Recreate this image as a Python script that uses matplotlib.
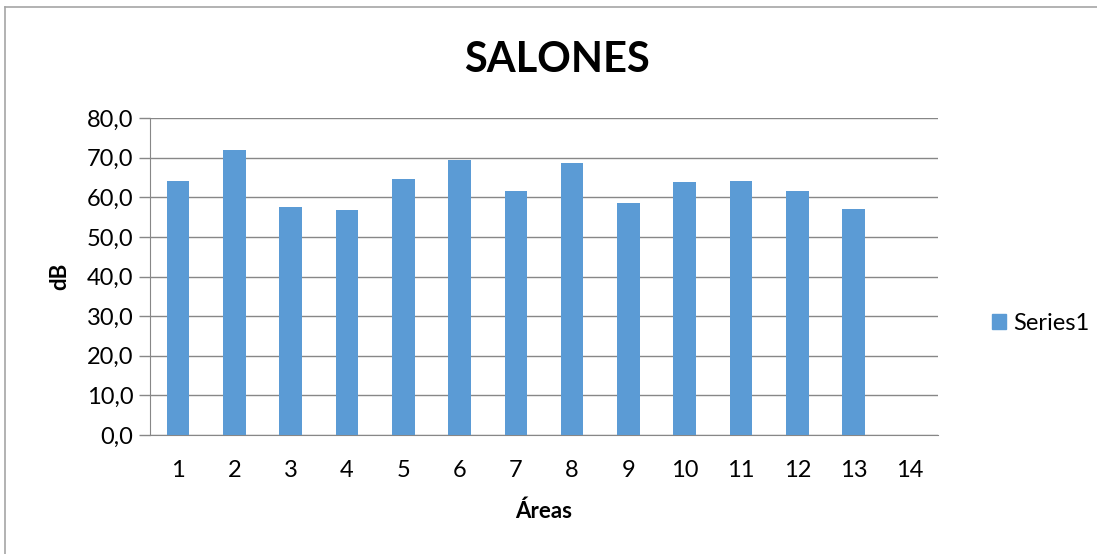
import matplotlib.pyplot as plt
import matplotlib.patches as mpatches
from matplotlib.lines import Line2D

# data
areas = [str(i) for i in range(1, 15)]
db_values = [64.0, 71.9, 57.5, 56.8, 64.5, 69.3, 61.6, 68.6, 58.6, 63.8, 64.2, 61.7, 57.0, None]
y_ticks = [0, 10, 20, 30, 40, 50, 60, 70, 80]

BAR = '#5b9bd5'
GRID = '#878787'
plt.rcParams['font.family'] = ['Lato', 'DejaVu Sans']

W, H = 1097, 554
fig = plt.figure(figsize=(W / 100, H / 100), dpi=100)
ax = fig.add_axes([150 / W, 1 - 435 / H, (938 - 150) / W, (435 - 118) / H])

xs = list(range(len(areas)))
vals = [v if v is not None else 0 for v in db_values]
ax.bar(xs, vals, width=0.4, color=BAR, zorder=3)

ax.set_xlim(-0.5, len(areas) - 0.5)
ax.set_ylim(0, 80)
ax.set_yticks(y_ticks)
ax.set_yticklabels([f"{t:.1f}".replace('.', ',') for t in y_ticks], fontsize=17)
ax.set_xticks(xs)
ax.set_xticklabels(areas, fontsize=17)
ax.yaxis.grid(True, color=GRID, linewidth=1, zorder=0)
ax.tick_params(axis='y', length=8, color=GRID, width=1, pad=4)
ax.tick_params(axis='x', length=0, pad=18)
for s in ['top', 'right']:
    ax.spines[s].set_visible(False)
for s in ['left', 'bottom']:
    ax.spines[s].set_color(GRID)

ax.set_ylabel('dB', fontsize=16, fontweight='bold', labelpad=12)
ax.set_xlabel('Áreas', fontsize=16, fontweight='bold', labelpad=14)
fig.text(557 / W, 1 - 60 / H, 'SALONES', fontsize=30, fontweight='bold',
         ha='center', va='center')

handle = mpatches.Patch(color=BAR, label='Series1')
fig.legend(handles=[handle], loc='center left', bbox_to_anchor=(980 / W, 1 - 323 / H),
           frameon=False, fontsize=17, handlelength=0.6, handleheight=0.6,
           handletextpad=0.3, borderpad=0)

# outer chart border (only top and left edges are visible in the crop)
border = '#a6a6a6'
fig.add_artist(Line2D([4.5 / W, 1], [1 - 6.5 / H, 1 - 6.5 / H], transform=fig.transFigure,
                      color=border, linewidth=1.2))
fig.add_artist(Line2D([4.5 / W, 4.5 / W], [0, 1 - 6.5 / H], transform=fig.transFigure,
                      color=border, linewidth=1.2))

fig.savefig('out.png', dpi=100)
